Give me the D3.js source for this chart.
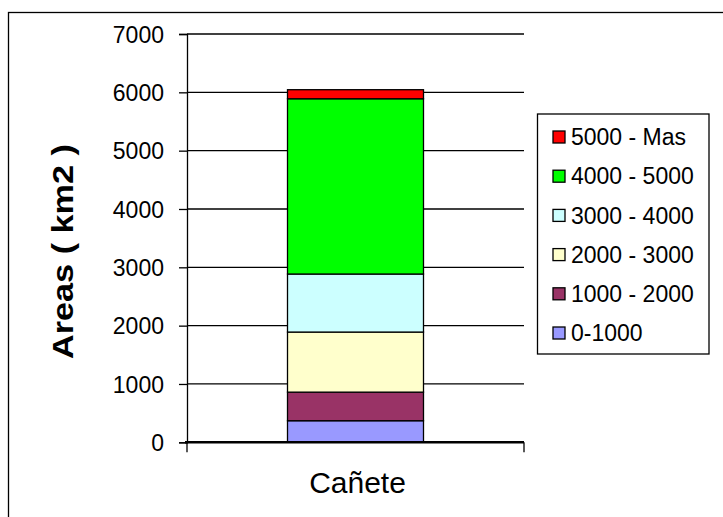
<!DOCTYPE html>
<html>
<head>
<meta charset="utf-8">
<script src="https://cdn.jsdelivr.net/npm/d3@7"></script>
<style>
  html, body { margin: 0; padding: 0; background: #fff; }
  svg { display: block; font-family: "Liberation Sans", Arial, sans-serif; }
</style>
</head>
<body>
<svg id="chart" width="723" height="517"></svg>
<script>
const categories = ["Cañete"];
const seriesNames = ["0-1000", "1000 - 2000", "2000 - 3000", "3000 - 4000", "4000 - 5000", "5000 - Mas"];
const seriesValues = [370, 490, 1030, 995, 3005, 155];
const seriesColors = ["#9999FF", "#993366", "#FFFFCC", "#CCFFFF", "#00FF00", "#FF0000"];
const yTicks = [0, 1000, 2000, 3000, 4000, 5000, 6000, 7000];
const yTitle = "Areas ( km2 )";

(function () {
const svg = d3.select("#chart");
const pLeft = 187, pRight = 524, pTop = 34, pBottom = 442.3;

// outer frame
svg.append("rect").attr("x", 8.5).attr("y", 12.5).attr("width", 760).attr("height", 560)
  .attr("fill", "none").attr("stroke", "#000").attr("stroke-width", 1.3);

const y = d3.scaleLinear().domain([0, 7000]).range([pBottom, pTop]);
const x = d3.scaleBand().domain(categories).range([pLeft, pRight]).paddingInner(0).paddingOuter(0.739);

// gridlines
svg.append("g").selectAll("line").data(yTicks.filter(d => d > 0)).join("line")
  .attr("x1", pLeft).attr("x2", pRight)
  .attr("y1", d => y(d)).attr("y2", d => y(d))
  .attr("stroke", "#000").attr("stroke-width", 1.3);

// stacked bars
const stackData = [];
let cum = 0;
seriesValues.forEach((v, i) => { stackData.push({ y0: cum, y1: cum + v, color: seriesColors[i] }); cum += v; });
svg.append("g").selectAll("rect").data(stackData).join("rect")
  .attr("x", x(categories[0]))
  .attr("width", x.bandwidth())
  .attr("y", d => y(d.y1))
  .attr("height", d => y(d.y0) - y(d.y1))
  .attr("fill", d => d.color)
  .attr("stroke", "#000").attr("stroke-width", 1.3);

// y axis
const yAxis = d3.axisLeft(y).tickValues(yTicks).tickSize(8).tickPadding(15).tickFormat(d3.format("d"));
const gy = svg.append("g").attr("transform", `translate(${pLeft},0)`).call(yAxis);
gy.select(".domain").attr("stroke", "#000").attr("stroke-width", 1.3);
gy.selectAll(".tick line").attr("stroke", "#000").attr("stroke-width", 1.3);
gy.selectAll(".tick text").attr("font-size", 23).attr("fill", "#000")
  .attr("font-family", "'Liberation Sans', Arial, sans-serif").attr("dy", "0.36em");

// x axis
const xAxis = d3.axisBottom(x).tickSize(0).tickPadding(0).tickFormat("");
const gx = svg.append("g").attr("transform", `translate(0,${pBottom})`).call(xAxis);
gx.select(".domain").remove();
gx.append("line").attr("x1", pLeft - 2).attr("x2", pRight).attr("y1", 0).attr("y2", 0)
  .attr("stroke", "#000").attr("stroke-width", 2.6);
gx.selectAll(".edge").data([pLeft, pRight]).join("line").attr("class", "edge")
  .attr("x1", d => d).attr("x2", d => d).attr("y1", 0).attr("y2", 10)
  .attr("stroke", "#000").attr("stroke-width", 1.3);
svg.append("text").attr("x", x(categories[0]) + x.bandwidth() / 2 + 2).attr("y", 492.5)
  .attr("text-anchor", "middle").attr("font-size", 30).attr("fill", "#000")
  .text(categories[0]);

// y title
svg.append("text").attr("transform", "translate(73,251.5) rotate(-90)")
  .attr("text-anchor", "middle").attr("font-size", 30).attr("font-weight", "bold")
  .attr("textLength", 215).attr("lengthAdjust", "spacingAndGlyphs")
  .attr("fill", "#000").text(yTitle);

// legend
const lg = svg.append("g");
lg.append("rect").attr("x", 537.5).attr("y", 114).attr("width", 171.5).attr("height", 240)
  .attr("fill", "#fff").attr("stroke", "#000").attr("stroke-width", 1.3);
const legendItems = seriesNames.map((n, i) => ({ name: n, color: seriesColors[i] })).reverse();
const rowY = d3.scalePoint().domain(legendItems.map(d => d.name)).range([137, 333]);
const rows = lg.selectAll("g.row").data(legendItems).join("g").attr("class", "row")
  .attr("transform", d => `translate(0,${rowY(d.name)})`);
rows.append("rect").attr("x", 553).attr("y", -6).attr("width", 12).attr("height", 12)
  .attr("fill", d => d.color).attr("stroke", "#000").attr("stroke-width", 1.3);
rows.append("text").attr("x", 571).attr("y", 0).attr("dy", "0.36em")
  .attr("font-size", 23).attr("fill", "#000").text(d => d.name);
})();
</script>
</body>
</html>
